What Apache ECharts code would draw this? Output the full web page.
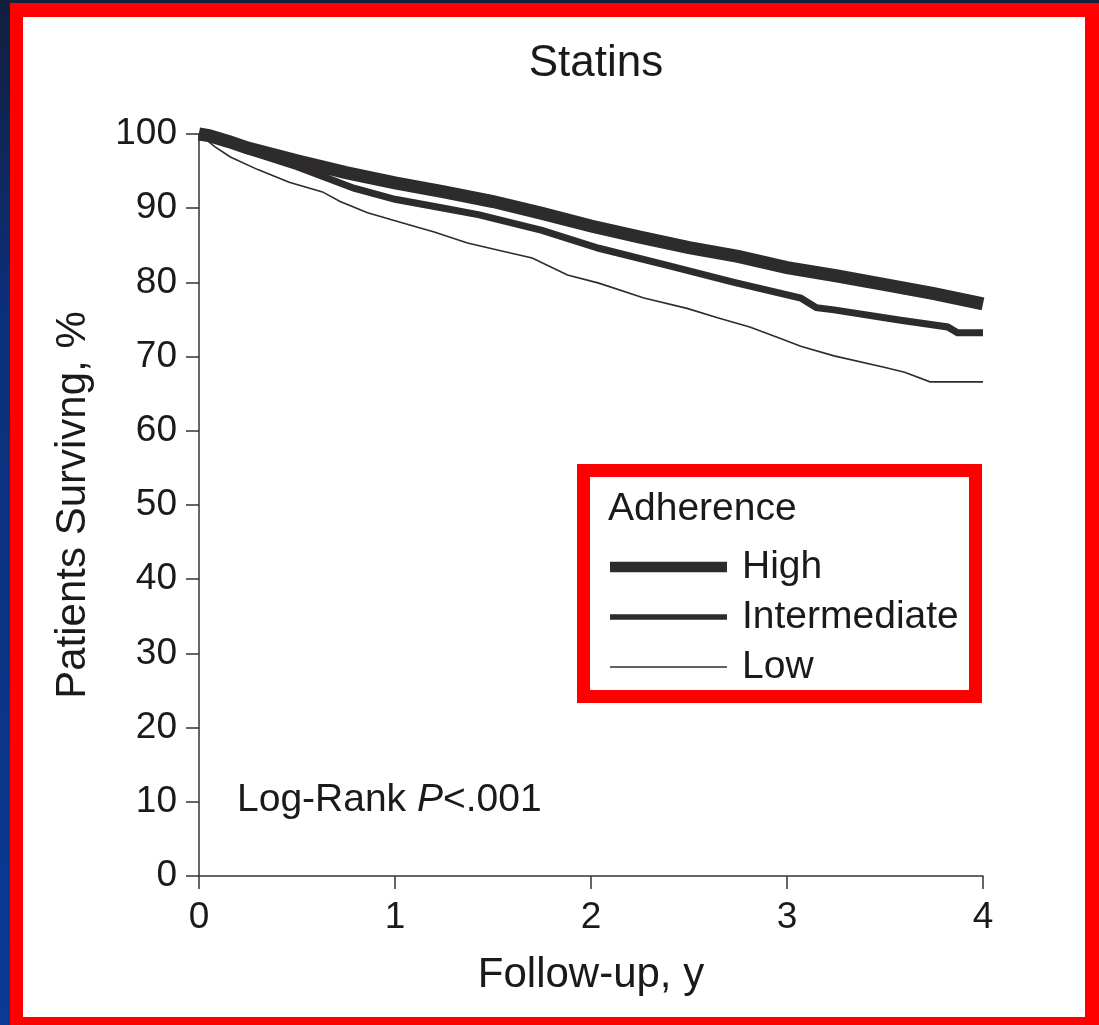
<!DOCTYPE html>
<html>
<head>
<meta charset="utf-8">
<script src="https://cdn.jsdelivr.net/npm/echarts@6/dist/echarts.min.js"></script>
<style>
html,body{margin:0;padding:0;width:1099px;height:1025px;overflow:hidden;background:#0c2a6a;}
#main{width:1099px;height:1025px;}
</style>
</head>
<body>
<div id="main"></div>
<script>
// ---- data ----
const titleText = 'Statins';
const seriesNames = ['High', 'Intermediate', 'Low'];
const xTicks = [0, 1, 2, 3, 4];
const yTicks = [0, 10, 20, 30, 40, 50, 60, 70, 80, 90, 100];

const highT = [0, 0.05, 0.15, 0.25, 0.5, 0.75, 1, 1.25, 1.5, 1.75, 2, 2.25, 2.5, 2.75, 3, 3.25, 3.5, 3.75, 4];
const highV = [100, 99.8, 99.0, 98.1, 96.4, 94.8, 93.4, 92.2, 90.9, 89.3, 87.6, 86.1, 84.7, 83.5, 82.0, 80.9, 79.7, 78.5, 77.1];

const interT = [0, 0.05, 0.15, 0.25, 0.5, 0.79, 1, 1.25, 1.43, 1.75, 2.04, 2.39, 2.73, 3.07, 3.15, 3.24, 3.58, 3.82, 3.87, 4];
const interV = [100, 99.7, 98.8, 97.7, 95.6, 92.7, 91.2, 90.0, 89.1, 87.0, 84.6, 82.3, 80.0, 77.9, 76.6, 76.3, 74.9, 74.0, 73.2, 73.2];

const lowT = [0, 0.03, 0.08, 0.16, 0.3, 0.46, 0.63, 0.72, 0.86, 1.04, 1.2, 1.37, 1.55, 1.7, 1.88, 2.04, 2.27, 2.49, 2.65, 2.81, 2.95, 3.07, 3.24, 3.49, 3.6, 3.73, 4];
const lowV = [100, 99.4, 98.3, 96.9, 95.2, 93.5, 92.2, 90.9, 89.4, 88.0, 86.8, 85.3, 84.2, 83.3, 81.0, 79.9, 77.9, 76.5, 75.2, 74.0, 72.6, 71.4, 70.1, 68.6, 67.9, 66.6, 66.6];

const pairs = (t, v) => t.map((x, i) => [x, v[i]]);

const FONT = '"Liberation Sans", Arial, Helvetica, sans-serif';
const INK = '#2e2b2c';
const TXT = '#1a1a1a';
const widths = [13, 7, 1.6];

const chart = echarts.init(document.getElementById('main'), null, {renderer: 'canvas'});
const dataSets = [pairs(highT, highV), pairs(interT, interV), pairs(lowT, lowV)];

const option = {
  animation: false,
  backgroundColor: 'transparent',
  textStyle: {fontFamily: FONT},
  title: {
    text: titleText,
    left: 591, top: 37, textAlign: 'center',
    textStyle: {fontFamily: FONT, fontSize: 44, fontWeight: 'normal', color: TXT}
  },
  grid: {left: 199, right: 116, top: 134, bottom: 149, containLabel: false},
  xAxis: {
    type: 'value', min: xTicks[0], max: xTicks[xTicks.length - 1], interval: 1,
    name: 'Follow-up, y', nameLocation: 'middle', nameGap: 78,
    nameTextStyle: {fontFamily: FONT, fontSize: 42, color: TXT},
    axisLine: {lineStyle: {color: '#333', width: 1.5}},
    axisTick: {show: true, length: 13, lineStyle: {color: '#333', width: 1.5}},
    axisLabel: {fontFamily: FONT, fontSize: 37, color: TXT, margin: 23},
    splitLine: {show: false}
  },
  yAxis: {
    type: 'value', min: yTicks[0], max: yTicks[yTicks.length - 1], interval: 10,
    name: 'Patients Survivng, %', nameLocation: 'middle', nameGap: 105, nameRotate: 90,
    nameTextStyle: {fontFamily: FONT, fontSize: 42, color: TXT},
    axisLine: {show: true, lineStyle: {color: '#333', width: 1.5}},
    axisTick: {show: true, length: 13, lineStyle: {color: '#333', width: 1.5}},
    axisLabel: {fontFamily: FONT, fontSize: 37, color: TXT, margin: 22},
    splitLine: {show: false}
  },
  legend: {
    orient: 'vertical', left: 605, top: 542, itemGap: 10,
    itemWidth: 117, itemHeight: 14, z: 20,
    textStyle: {fontFamily: FONT, fontSize: 39, color: TXT, lineHeight: 40, padding: [0, 0, 0, 10]},
    selectedMode: false
  },
  graphic: [
    {type: 'rect', z: -10, silent: true, shape: {x: 0, y: 0, width: 1099, height: 1025},
     style: {fill: new echarts.graphic.LinearGradient(0, 0, 0, 1, [{offset: 0, color: '#121f3d'}, {offset: 0.3, color: '#0c2f7a'}, {offset: 1, color: '#0a3a95'}])}},
    {type: 'rect', z: -9, silent: true, shape: {x: 10, y: 3, width: 1089, height: 1022}, style: {fill: '#ff0000'}},
    {type: 'rect', z: -8, silent: true, shape: {x: 23, y: 17, width: 1062, height: 1000}, style: {fill: '#ffffff'}},
    {type: 'rect', z: 1, silent: true, shape: {x: 583.5, y: 470.5, width: 392, height: 226},
     style: {fill: '#ffffff', stroke: '#ff0000', lineWidth: 13}},
    {type: 'text', z: 6, left: 608, top: 490, silent: true,
     style: {text: 'Adherence', font: '39px ' + FONT, fill: TXT}},
    {type: 'text', z: 6, left: 237, top: 781, silent: true,
     style: {
       text: '{n|Log-Rank }{i|P}{n|<.001}',
       rich: {
         n: {fontFamily: FONT, fontSize: 39, fill: TXT, color: TXT},
         i: {fontFamily: FONT, fontSize: 39, fontStyle: 'italic', fill: TXT, color: TXT}
       }
     }}
  ],
  series: seriesNames.map((n, i) => ({
    name: n, type: 'line', data: dataSets[i], showSymbol: false, symbol: 'none',
    z: 3 - i,
    lineStyle: {color: INK, width: widths[i], join: 'miter'},
    itemStyle: {color: INK},
    clip: false
  }))
};
option.legend.data = seriesNames.map((n, i) => ({
  name: n,
  icon: 'path://M0,0L117,0L117,' + Math.max(widths[i] * 0.8, 1.5) + 'L0,' + Math.max(widths[i] * 0.8, 1.5) + 'Z',
  itemStyle: {color: INK}
}));
chart.setOption(option);
</script>
</body>
</html>
